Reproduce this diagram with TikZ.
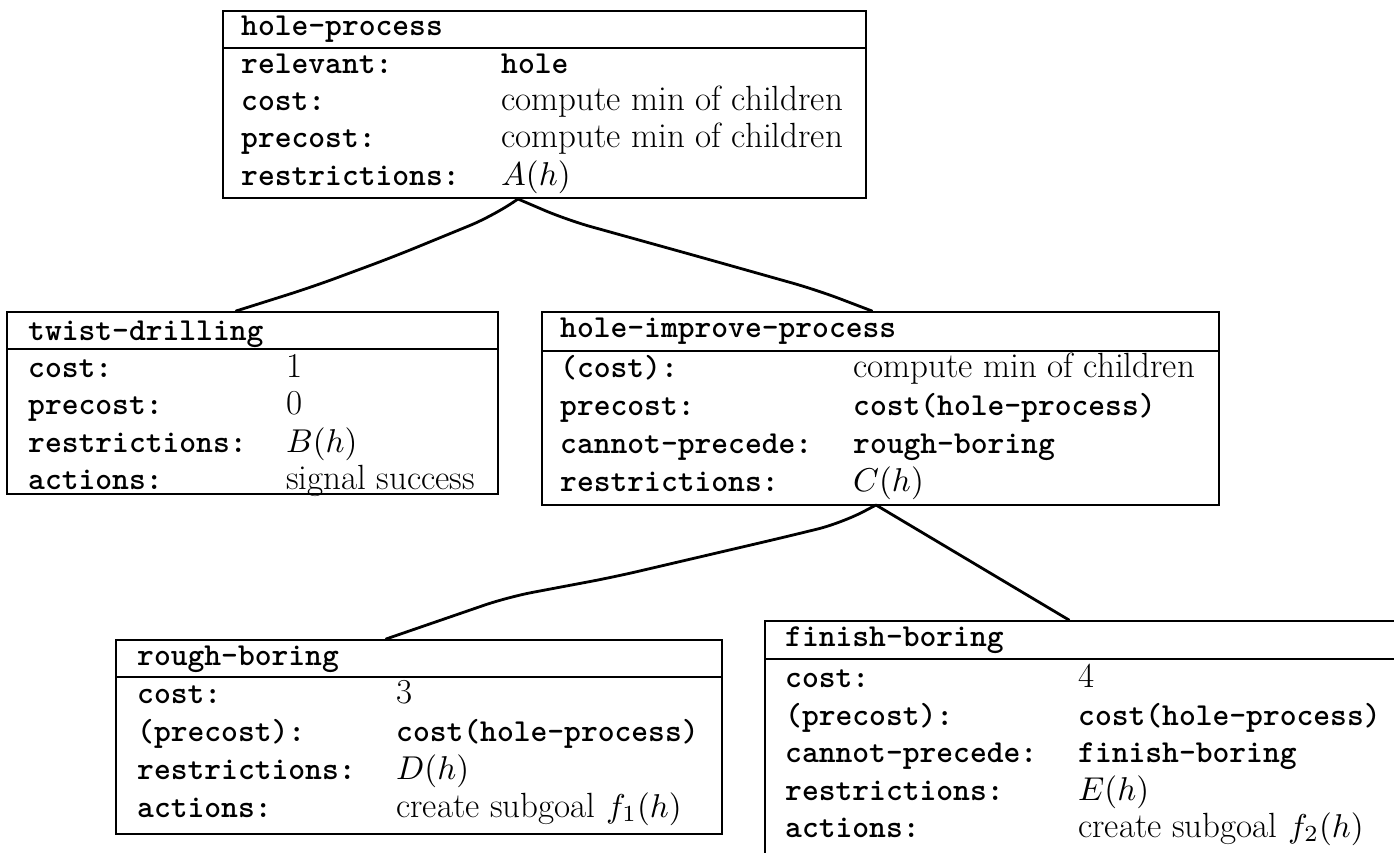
\documentclass[tikz,border=0pt]{standalone}
\usepackage{graphicx}
\tikzset{
  box/.style={draw, line width=2.2pt, rectangle, inner sep=0pt, anchor=north west},
  sepline/.style={line width=2.2pt},
  link/.style={line width=2.8pt, line join=round, line cap=round, rounded corners=25pt},
  txt/.style={anchor=base west, inner sep=0pt, font=\fontsize{35}{40}\selectfont},
  lab/.style={anchor=base west, inner sep=0pt, font=\fontsize{32}{38}\selectfont\ttfamily\bfseries},
}
\newcommand\mycell[5]{\node[#1] (#2) at (#3,#4) {#5};}
\newcommand\mymath[1]{\scalebox{3.3}{\normalsize$#1$}}
\begin{document}
\begin{tikzpicture}[x=1pt,y=-1pt]
\useasboundingbox (0,0) rectangle (1394,852);
\clip (0,0) rectangle (1394,852);
\fill[white] (0,0) rectangle (1394,852);

% ---- boxes
\node[box, minimum width=643pt, minimum height=187pt] (hp) at (222,10) {};
\draw[sepline] ([yshift=-38pt]hp.north west) -- ([yshift=-38pt]hp.north east);
\node[box, minimum width=491pt, minimum height=182pt] (td) at (6,311) {};
\draw[sepline] ([yshift=-38pt]td.north west) -- ([yshift=-38pt]td.north east);
\node[box, minimum width=677pt, minimum height=193pt] (hip) at (541,311) {};
\draw[sepline] ([yshift=-40pt]hip.north west) -- ([yshift=-40pt]hip.north east);
\node[box, minimum width=606pt, minimum height=194pt] (rb) at (115,639) {};
\draw[sepline] ([yshift=-38pt]rb.north west) -- ([yshift=-38pt]rb.north east);
\node[box, minimum width=700pt, minimum height=300pt] (fb) at (764,620) {};
\draw[sepline] ([yshift=-39pt]fb.north west) -- ([yshift=-39pt]fb.north east);

% ---- connectors
\coordinate (hpS) at (518,199);
\coordinate (tdN) at (236,311);
\coordinate (hipN) at (872,311);
\coordinate (hipS) at (876,505);
\coordinate (rbN) at (386,639);
\coordinate (fbN) at (1069,620);
\draw[link] (hpS) -- (493,216) -- (393,257) -- (312,287) -- (tdN);
\draw[link] (hpS) -- (567,220) -- (700,257) -- (817,290) -- (hipN);
\draw[link] (hipS) -- (842,523) -- (785,537) -- (614,577) -- (508,597) -- (rbN);
\draw[link] (hipS) -- (fbN);

% ---- hole-process
\mycell{lab}{hpT}{241}{35}{hole-process}
\mycell{lab}{hpAl}{241}{73}{relevant:}
\mycell{lab}{hpAv}{501}{73}{hole}
\mycell{lab}{hpBl}{241}{110}{cost:}
\mycell{txt}{hpBv}{501}{110}{compute min of children}
\mycell{lab}{hpCl}{241}{147}{precost:}
\mycell{txt}{hpCv}{501}{147}{compute min of children}
\mycell{lab}{hpDl}{241}{185}{restrictions:}
\mycell{txt}{hpDv}{501}{185}{\mymath{A(h)}}

% ---- twist-drilling
\mycell{lab}{tdT}{28}{340}{twist-drilling}
\mycell{lab}{tdAl}{28}{377}{cost:}
\mycell{txt}{tdAv}{286}{377}{1}
\mycell{lab}{tdBl}{28}{414}{precost:}
\mycell{txt}{tdBv}{286}{414}{0}
\mycell{lab}{tdCl}{28}{452}{restrictions:}
\mycell{txt}{tdCv}{286}{452}{\mymath{B(h)}}
\mycell{lab}{tdDl}{28}{489}{actions:}
\mycell{txt}{tdDv}{286}{489}{signal success}

% ---- hole-improve-process
\mycell{lab}{hipT}{560}{337}{hole-improve-process}
\mycell{lab}{hipAl}{560}{377}{(cost):}
\mycell{txt}{hipAv}{853}{377}{compute min of children}
\mycell{lab}{hipBl}{560}{415}{precost:}
\mycell{lab}{hipBv}{853}{415}{cost(hole-process)}
\mycell{lab}{hipCl}{560}{453}{cannot-precede:}
\mycell{lab}{hipCv}{853}{453}{rough-boring}
\mycell{lab}{hipDl}{560}{491}{restrictions:}
\mycell{txt}{hipDv}{853}{491}{\mymath{C(h)}}

% ---- rough-boring
\mycell{lab}{rbT}{137}{665}{rough-boring}
\mycell{lab}{rbAl}{137}{703}{cost:}
\mycell{txt}{rbAv}{396}{703}{3}
\mycell{lab}{rbBl}{137}{741}{(precost):}
\mycell{lab}{rbBv}{396}{741}{cost(hole-process)}
\mycell{lab}{rbCl}{137}{779}{restrictions:}
\mycell{txt}{rbCv}{396}{779}{\mymath{D(h)}}
\mycell{lab}{rbDl}{137}{817}{actions:}
\mycell{txt}{rbDv}{396}{817}{create subgoal \mymath{f_1(h)}}

% ---- finish-boring
\mycell{lab}{fbT}{785}{646}{finish-boring}
\mycell{lab}{fbAl}{785}{687}{cost:}
\mycell{txt}{fbAv}{1078}{687}{4}
\mycell{lab}{fbBl}{785}{725}{(precost):}
\mycell{lab}{fbBv}{1078}{725}{cost(hole-process)}
\mycell{lab}{fbCl}{785}{762}{cannot-precede:}
\mycell{lab}{fbCv}{1078}{762}{finish-boring}
\mycell{lab}{fbDl}{785}{800}{restrictions:}
\mycell{txt}{fbDv}{1078}{800}{\mymath{E(h)}}
\mycell{lab}{fbEl}{785}{837}{actions:}
\mycell{txt}{fbEv}{1078}{837}{create subgoal \mymath{f_2(h)}}
\end{tikzpicture}
\end{document}
